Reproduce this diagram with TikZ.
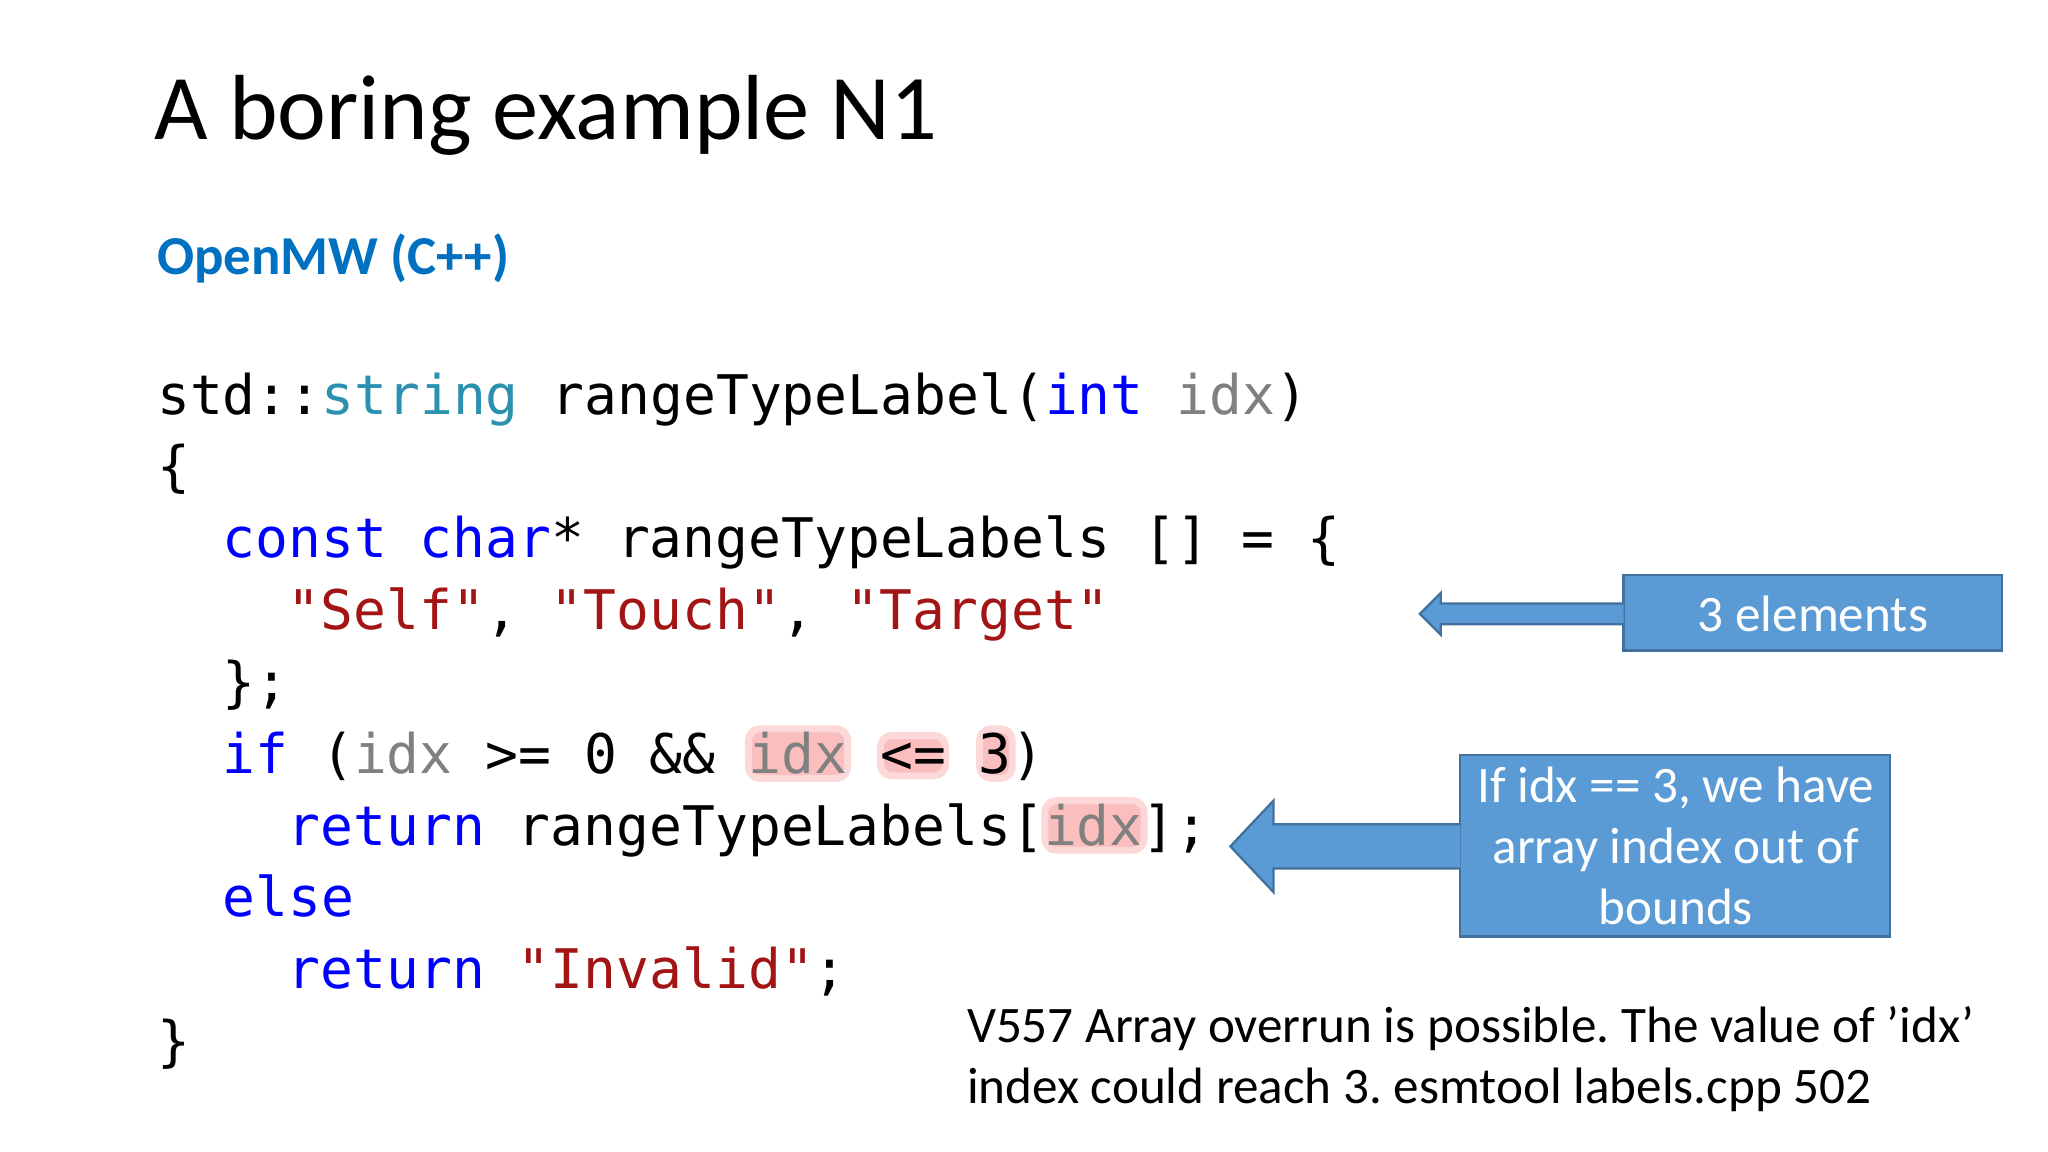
\documentclass[tikz,border=0pt]{standalone}
\usepackage{fontspec}
\setmainfont{Carlito}
\newfontfamily\codef{DejaVu Sans Mono}
\definecolor{kw}{RGB}{0,0,255}
\definecolor{ty}{RGB}{43,145,175}
\definecolor{gr}{RGB}{128,128,128}
\definecolor{st}{RGB}{163,21,21}
\definecolor{ttl}{RGB}{0,112,192}
\definecolor{bxf}{RGB}{91,155,213}
\definecolor{bxd}{RGB}{65,113,156}
\definecolor{hl}{RGB}{250,190,190}
\frenchspacing
\tikzset{
 code/.style={anchor=base west,inner sep=0,font=\codef\fontsize{23.8}{28}\selectfont},
 callout/.style={fill=bxf,draw=bxd,line width=1pt},
 ctext/.style={text=white,font=\fontsize{22.3}{26.6}\selectfont,align=center,inner sep=0},
 hlbox/.style={fill=hl,draw=hl!60,line width=3pt,rounded corners=5pt}
}
\begin{document}
\begin{tikzpicture}[x=0.02cm,y=-0.02cm]
\useasboundingbox[fill=white] (0,0) rectangle (1568,882);
\node[anchor=base west,inner sep=0,font=\fontsize{40.3}{48}\selectfont] (title) at (118,107) {A boring example N1};
\node[anchor=base west,inner sep=0,text=ttl,font=\bfseries\fontsize{23.9}{28}\selectfont] (sub) at (120,210) {OpenMW (C++)};
% highlights
\filldraw[hlbox] (573,558) rectangle (649,596);
\filldraw[hlbox] (674,563) rectangle (724,594);
\filldraw[hlbox] (750,558) rectangle (775,596);
\filldraw[hlbox] (800,613) rectangle (876,651);
\node[code] (l1) at (120,317) {std::\textcolor{ty}{string} rangeTypeLabel(\textcolor{kw}{int} \textcolor{gr}{idx})};
\node[code] (l2) at (120,372) {\{};
\node[code] (l3) at (170,427) {\textcolor{kw}{const} \textcolor{kw}{char}* rangeTypeLabels [] = \{};
\node[code] (l4) at (220,482) {\textcolor{st}{"Self"}, \textcolor{st}{"Touch"}, \textcolor{st}{"Target"}};
\node[code] (l5) at (170,537) {\};};
\node[code] (l6) at (170,592) {\textcolor{kw}{if} (\textcolor{gr}{idx} >= 0 \&\& \textcolor{gr}{idx} <= 3)};
\node[code] (l7) at (220,647) {\textcolor{kw}{return} rangeTypeLabels[\textcolor{gr}{idx}];};
\node[code] (l8) at (170,702) {\textcolor{kw}{else}};
\node[code] (l9) at (220,757) {\textcolor{kw}{return} \textcolor{st}{"Invalid"};};
\node[code] (l10) at (120,812) {\}};
% callout 1
\draw[callout] (1243,440) rectangle (1533,498);
\node[ctext] (b1) at (1388,470) {3 elements};
\draw[callout] (1243,462) -- (1103,462) -- (1103,454) -- (1087,470) -- (1103,486) -- (1103,478) -- (1243,478);
% callout 2
\draw[callout] (1118,578) rectangle (1447,717);
\node[ctext] (b2) at (1283,648) {If idx == 3, we have\\array index out of\\bounds};
\draw[callout] (1118,631) -- (975,631) -- (975,613) -- (942,648) -- (975,683) -- (975,665) -- (1118,665);
\node[anchor=base west,inner sep=0,align=left,font=\fontsize{22.3}{26.6}\selectfont] (note) at (740,845) {V557 Array overrun is possible. The value of \char"27 idx\char"27\\index could reach 3. esmtool labels.cpp 502};
\end{tikzpicture}
\end{document}
